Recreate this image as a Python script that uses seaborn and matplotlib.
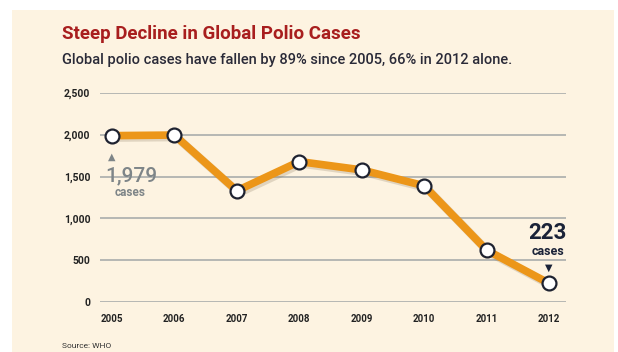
import matplotlib
matplotlib.use("Agg")
import matplotlib.pyplot as plt
import matplotlib.patheffects as pe
import seaborn as sns
import pandas as pd

years = ["2005", "2006", "2007", "2008", "2009", "2010", "2011", "2012"]
cases = [1990, 1997, 1330, 1680, 1580, 1390, 620, 223]
yticks = [0, 500, 1000, 1500, 2000, 2500]
ytick_labels = ["0", "500", "1,000", "1,500", "2,000", "2,500"]

title = "Steep Decline in Global Polio Cases"
subtitle = "Global polio cases have fallen by 89% since 2005, 66% in 2012 alone."
source = "Source: WHO"

sns.set_theme(style="white")
plt.rcParams["font.family"] = ["Roboto", "DejaVu Sans"]

W, H = 618, 352
fig = plt.figure(figsize=(W / 100, H / 100), dpi=100)
fig.patch.set_facecolor("white")

cream = "#FDF3E1"
fig.patches.append(plt.Rectangle((12 / W, 0), 602 / W, (H - 10) / H,
                                 transform=fig.transFigure, facecolor=cream,
                                 edgecolor="none", zorder=-5))

ax = fig.add_axes([100 / W, 50 / H, 466 / W, 209 / H])
ax.set_facecolor("none")

df = pd.DataFrame({"idx": range(len(years)), "cases": cases})

# shadow
sns.lineplot(data=df, x="idx", y="cases", ax=ax, color="#8a7a60", alpha=0.25,
             linewidth=6, legend=False,
             path_effects=[pe.Stroke(offset=(1.5, -1.5))], zorder=2)
sns.lineplot(data=df, x="idx", y="cases", ax=ax, color="#EC9619",
             linewidth=5.5, legend=False, zorder=3,
             marker="o", markersize=10, markerfacecolor="white",
             markeredgecolor="#1E2230", markeredgewidth=1.6, clip_on=False)

ax.set_xlim(-0.19, 7.27)
ax.set_ylim(0, 2500)
ax.set_yticks(yticks)
ax.set_yticklabels(ytick_labels)
ax.set_xticks(range(len(years)))
ax.set_xticklabels(years)
for s in ax.spines.values():
    s.set_visible(False)
ax.grid(axis="y", color="#A9ADAB", linewidth=1.2)
ax.set_axisbelow(True)
ax.tick_params(axis="y", length=0, pad=7, labelsize=7.5, labelcolor="#222222")
ax.tick_params(axis="x", length=0, pad=9, labelsize=7, labelcolor="#222222")
for lbl in ax.get_xticklabels() + ax.get_yticklabels():
    lbl.set_fontweight("bold")
ax.set_xlabel("")
ax.set_ylabel("")

gray = "#7E8588"
navy = "#1B2338"
ax.annotate("▲", xy=(0, cases[0]), xytext=(0, -15), textcoords="offset points",
            ha="center", va="center", fontsize=7, color=gray,
            family=["DejaVu Sans"])
ax.annotate("1,979", xy=(0, cases[0]), xytext=(14, -29), textcoords="offset points",
            ha="center", va="center", fontsize=15, color=gray, fontweight="medium")
ax.annotate("cases", xy=(0, cases[0]), xytext=(13, -41), textcoords="offset points",
            ha="center", va="center", fontsize=8.5, color=gray, fontweight="bold")

ax.annotate("223", xy=(7, cases[7]), xytext=(-1, 36), textcoords="offset points",
            ha="center", va="center", fontsize=16, color=navy, fontweight="bold")
ax.annotate("cases", xy=(7, cases[7]), xytext=(-1, 23), textcoords="offset points",
            ha="center", va="center", fontsize=9, color=navy, fontweight="bold")
ax.annotate("▼", xy=(7, cases[7]), xytext=(0, 11), textcoords="offset points",
            ha="center", va="center", fontsize=7, color=navy,
            family=["DejaVu Sans"])

fig.text(62 / W, 1 - 34 / H, title, ha="left", va="center", fontsize=13.5,
         fontweight="bold", color="#A81E1E")
fig.text(62 / W, 1 - 60 / H, subtitle, ha="left", va="center", fontsize=10.5,
         fontweight="medium", color="#2A2A38")
fig.text(62 / W, 1 - 346 / H, source, ha="left", va="center", fontsize=6,
         color="#333333")

fig.savefig("out.png", dpi=100, facecolor="white")
